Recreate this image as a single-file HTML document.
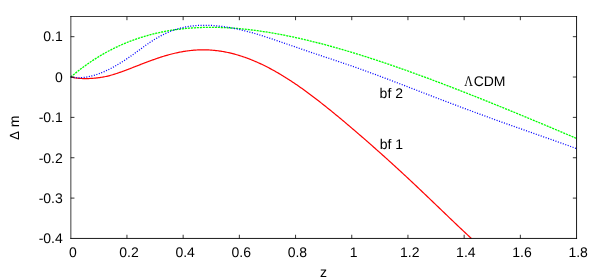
<!DOCTYPE html>
<html><head><meta charset="utf-8"><title>plot</title>
<style>html,body{margin:0;padding:0;background:#fff;}body{width:600px;height:280px;overflow:hidden;font-family:"Liberation Sans",sans-serif;}.lbl{filter:grayscale(1);text-rendering:geometricPrecision;}.lbl text{font-family:"Liberation Sans",sans-serif;}.lbl text.ser{font-family:"Liberation Serif",serif;}</style>
</head><body>
<svg width="600" height="280" viewBox="0 0 600 280" style="display:block">
<rect width="600" height="280" fill="#fff"/>
<path d="M70.75,77.00 L71.75,77.24 L72.75,77.46 L73.75,77.65 L74.75,77.82 L75.75,77.97 L76.75,78.10 L77.75,78.21 L78.75,78.31 L79.75,78.38 L80.75,78.45 L81.75,78.50 L82.75,78.54 L83.75,78.56 L84.75,78.58 L85.75,78.58 L86.75,78.57 L87.75,78.55 L88.75,78.53 L89.75,78.49 L90.75,78.44 L91.75,78.39 L92.75,78.32 L93.75,78.24 L94.75,78.16 L95.75,78.06 L96.75,77.96 L97.75,77.84 L98.75,77.71 L99.75,77.58 L100.75,77.43 L101.75,77.27 L102.75,77.10 L103.75,76.91 L104.75,76.72 L105.75,76.51 L106.75,76.29 L107.75,76.06 L108.75,75.81 L109.75,75.56 L110.75,75.29 L111.75,75.01 L112.75,74.72 L113.75,74.42 L114.75,74.11 L115.75,73.79 L116.75,73.46 L117.75,73.12 L118.75,72.78 L119.75,72.43 L120.75,72.08 L121.75,71.72 L122.75,71.36 L123.75,70.99 L124.75,70.62 L125.75,70.24 L126.75,69.86 L127.75,69.48 L128.75,69.10 L129.75,68.71 L130.75,68.33 L131.75,67.94 L132.75,67.55 L133.75,67.16 L134.75,66.77 L135.75,66.38 L136.75,65.99 L137.75,65.60 L138.75,65.21 L139.75,64.82 L140.75,64.43 L141.75,64.04 L142.75,63.65 L143.75,63.27 L144.75,62.88 L145.75,62.50 L146.75,62.12 L147.75,61.75 L148.75,61.37 L149.75,61.00 L150.75,60.64 L151.75,60.27 L152.75,59.91 L153.75,59.56 L154.75,59.20 L155.75,58.86 L156.75,58.51 L157.75,58.17 L158.75,57.84 L159.75,57.51 L160.75,57.18 L161.75,56.86 L162.75,56.55 L163.75,56.24 L164.75,55.94 L165.75,55.64 L166.75,55.35 L167.75,55.07 L168.75,54.79 L169.75,54.52 L170.75,54.25 L171.75,53.99 L172.75,53.74 L173.75,53.49 L174.75,53.26 L175.75,53.03 L176.75,52.80 L177.75,52.59 L178.75,52.38 L179.75,52.18 L180.75,51.98 L181.75,51.80 L182.75,51.62 L183.75,51.45 L184.75,51.29 L185.75,51.14 L186.75,50.99 L187.75,50.85 L188.75,50.73 L189.75,50.61 L190.75,50.49 L191.75,50.39 L192.75,50.30 L193.75,50.21 L194.75,50.13 L195.75,50.06 L196.75,50.00 L197.75,49.95 L198.75,49.91 L199.75,49.88 L200.75,49.85 L201.75,49.83 L202.75,49.83 L203.75,49.83 L204.75,49.84 L205.75,49.86 L206.75,49.89 L207.75,49.92 L208.75,49.97 L209.75,50.02 L210.75,50.09 L211.75,50.16 L212.75,50.24 L213.75,50.33 L214.75,50.43 L215.75,50.54 L216.75,50.65 L217.75,50.78 L218.75,50.91 L219.75,51.05 L220.75,51.20 L221.75,51.36 L222.75,51.53 L223.75,51.70 L224.75,51.89 L225.75,52.08 L226.75,52.28 L227.75,52.49 L228.75,52.71 L229.75,52.93 L230.75,53.17 L231.75,53.41 L232.75,53.66 L233.75,53.92 L234.75,54.19 L235.75,54.46 L236.75,54.75 L237.75,55.04 L238.75,55.34 L239.75,55.64 L240.75,55.96 L241.75,56.28 L242.75,56.61 L243.75,56.95 L244.75,57.30 L245.75,57.65 L246.75,58.01 L247.75,58.38 L248.75,58.76 L249.75,59.14 L250.75,59.54 L251.75,59.94 L252.75,60.34 L253.75,60.76 L254.75,61.18 L255.75,61.61 L256.75,62.05 L257.75,62.49 L258.75,62.94 L259.75,63.40 L260.75,63.86 L261.75,64.33 L262.75,64.81 L263.75,65.30 L264.75,65.79 L265.75,66.29 L266.75,66.80 L267.75,67.31 L268.75,67.83 L269.75,68.36 L270.75,68.89 L271.75,69.43 L272.75,69.98 L273.75,70.53 L274.75,71.09 L275.75,71.65 L276.75,72.22 L277.75,72.80 L278.75,73.39 L279.75,73.98 L280.75,74.57 L281.75,75.17 L282.75,75.78 L283.75,76.39 L284.75,77.01 L285.75,77.64 L286.75,78.27 L287.75,78.90 L288.75,79.55 L289.75,80.19 L290.75,80.85 L291.75,81.50 L292.75,82.17 L293.75,82.84 L294.75,83.51 L295.75,84.19 L296.75,84.87 L297.75,85.56 L298.75,86.25 L299.75,86.95 L300.75,87.65 L301.75,88.36 L302.75,89.07 L303.75,89.79 L304.75,90.51 L305.75,91.24 L306.75,91.97 L307.75,92.70 L308.75,93.44 L309.75,94.18 L310.75,94.93 L311.75,95.68 L312.75,96.43 L313.75,97.19 L314.75,97.95 L315.75,98.72 L316.75,99.49 L317.75,100.26 L318.75,101.03 L319.75,101.81 L320.75,102.60 L321.75,103.38 L322.75,104.17 L323.75,104.96 L324.75,105.76 L325.75,106.55 L326.75,107.35 L327.75,108.16 L328.75,108.96 L329.75,109.77 L330.75,110.58 L331.75,111.39 L332.75,112.21 L333.75,113.03 L334.75,113.85 L335.75,114.67 L336.75,115.49 L337.75,116.32 L338.75,117.15 L339.75,117.98 L340.75,118.81 L341.75,119.65 L342.75,120.48 L343.75,121.32 L344.75,122.16 L345.75,123.00 L346.75,123.85 L347.75,124.69 L348.75,125.54 L349.75,126.39 L350.75,127.24 L351.75,128.09 L352.75,128.94 L353.75,129.80 L354.75,130.65 L355.75,131.51 L356.75,132.37 L357.75,133.23 L358.75,134.09 L359.75,134.95 L360.75,135.82 L361.75,136.69 L362.75,137.55 L363.75,138.42 L364.75,139.29 L365.75,140.16 L366.75,141.04 L367.75,141.91 L368.75,142.78 L369.75,143.66 L370.75,144.54 L371.75,145.42 L372.75,146.30 L373.75,147.18 L374.75,148.06 L375.75,148.95 L376.75,149.83 L377.75,150.72 L378.75,151.61 L379.75,152.50 L380.75,153.39 L381.75,154.28 L382.75,155.18 L383.75,156.07 L384.75,156.97 L385.75,157.87 L386.75,158.77 L387.75,159.67 L388.75,160.58 L389.75,161.48 L390.75,162.39 L391.75,163.30 L392.75,164.21 L393.75,165.12 L394.75,166.03 L395.75,166.95 L396.75,167.86 L397.75,168.78 L398.75,169.70 L399.75,170.62 L400.75,171.54 L401.75,172.47 L402.75,173.39 L403.75,174.32 L404.75,175.25 L405.75,176.18 L406.75,177.11 L407.75,178.04 L408.75,178.97 L409.75,179.91 L410.75,180.85 L411.75,181.78 L412.75,182.72 L413.75,183.67 L414.75,184.61 L415.75,185.55 L416.75,186.50 L417.75,187.44 L418.75,188.39 L419.75,189.34 L420.75,190.29 L421.75,191.24 L422.75,192.19 L423.75,193.14 L424.75,194.09 L425.75,195.05 L426.75,196.00 L427.75,196.96 L428.75,197.91 L429.75,198.87 L430.75,199.83 L431.75,200.78 L432.75,201.74 L433.75,202.70 L434.75,203.66 L435.75,204.62 L436.75,205.58 L437.75,206.54 L438.75,207.50 L439.75,208.46 L440.75,209.42 L441.75,210.38 L442.75,211.34 L443.75,212.30 L444.75,213.26 L445.75,214.22 L446.75,215.18 L447.75,216.14 L448.75,217.10 L449.75,218.06 L450.75,219.02 L451.75,219.97 L452.75,220.93 L453.75,221.88 L454.75,222.84 L455.75,223.79 L456.75,224.74 L457.75,225.69 L458.75,226.64 L459.75,227.59 L460.75,228.54 L461.75,229.48 L462.75,230.43 L463.75,231.37 L464.75,232.31 L465.75,233.24 L466.75,234.18 L467.75,235.11 L468.75,236.04 L469.75,236.97 L470.75,237.90 L471.40,238.50" fill="none" stroke="#ff0000" stroke-width="1.2"/>
<path d="M70.75,77.03 L72.16,75.84 L73.56,74.66 L74.97,73.50 L76.37,72.37 L77.78,71.25 L79.18,70.15 L80.58,69.07 L81.99,68.00 L83.39,66.96 L84.80,65.93 L86.20,64.92 L87.61,63.93 L89.02,62.95 L90.42,62.00 L91.82,61.05 L93.23,60.13 L94.63,59.22 L96.04,58.33 L97.44,57.45 L98.85,56.59 L100.25,55.75 L101.66,54.92 L103.06,54.11 L104.47,53.31 L105.88,52.53 L107.28,51.76 L108.69,51.01 L110.09,50.27 L111.49,49.55 L112.90,48.84 L114.30,48.15 L115.71,47.46 L117.12,46.80 L118.52,46.14 L119.92,45.50 L121.33,44.88 L122.73,44.27 L124.14,43.67 L125.54,43.08 L126.95,42.51 L128.36,41.95 L129.76,41.40 L131.16,40.86 L132.57,40.34 L133.97,39.83 L135.38,39.33 L136.78,38.84 L138.19,38.37 L139.59,37.90 L141.00,37.45 L142.40,37.01 L143.81,36.58 L145.21,36.17 L146.62,35.76 L148.03,35.36 L149.43,34.98 L150.84,34.61 L152.24,34.24 L153.64,33.89 L155.05,33.55 L156.45,33.22 L157.86,32.90 L159.26,32.59 L160.67,32.28 L162.07,31.99 L163.48,31.71 L164.88,31.44 L166.29,31.18 L167.69,30.93 L169.10,30.68 L170.50,30.45 L171.91,30.22 L173.31,30.01 L174.72,29.80 L176.12,29.61 L177.53,29.42 L178.94,29.24 L180.34,29.07 L181.75,28.90 L183.15,28.75 L184.56,28.60 L185.96,28.47 L187.37,28.34 L188.77,28.22 L190.17,28.10 L191.58,28.00 L192.98,27.90 L194.39,27.81 L195.79,27.73 L197.20,27.66 L198.60,27.59 L200.01,27.53 L201.41,27.48 L202.82,27.44 L204.22,27.40 L205.63,27.37 L207.03,27.35 L208.44,27.34 L209.84,27.33 L211.25,27.33 L212.66,27.33 L214.06,27.34 L215.46,27.36 L216.87,27.39 L218.28,27.42 L219.68,27.46 L221.08,27.50 L222.49,27.56 L223.90,27.61 L225.30,27.68 L226.70,27.75 L228.11,27.82 L229.52,27.91 L230.92,27.99 L232.32,28.09 L233.73,28.19 L235.13,28.29 L236.54,28.40 L237.94,28.52 L239.35,28.64 L240.75,28.77 L242.16,28.91 L243.56,29.05 L244.97,29.19 L246.37,29.34 L247.78,29.49 L249.19,29.65 L250.59,29.82 L251.99,29.99 L253.40,30.17 L254.80,30.35 L256.21,30.53 L257.62,30.72 L259.02,30.92 L260.42,31.12 L261.83,31.32 L263.24,31.53 L264.64,31.75 L266.04,31.97 L267.45,32.19 L268.85,32.42 L270.26,32.65 L271.66,32.89 L273.07,33.13 L274.47,33.37 L275.88,33.62 L277.28,33.87 L278.69,34.13 L280.09,34.39 L281.50,34.66 L282.90,34.93 L284.31,35.21 L285.71,35.48 L287.12,35.77 L288.52,36.05 L289.93,36.34 L291.33,36.64 L292.74,36.93 L294.14,37.23 L295.55,37.54 L296.95,37.85 L298.36,38.16 L299.76,38.47 L301.17,38.79 L302.57,39.12 L303.98,39.44 L305.38,39.77 L306.79,40.11 L308.19,40.44 L309.60,40.78 L311.00,41.12 L312.41,41.47 L313.81,41.82 L315.22,42.17 L316.62,42.53 L318.03,42.89 L319.43,43.25 L320.84,43.61 L322.25,43.98 L323.65,44.35 L325.05,44.73 L326.46,45.10 L327.86,45.48 L329.27,45.86 L330.68,46.25 L332.08,46.64 L333.49,47.03 L334.89,47.42 L336.29,47.82 L337.70,48.22 L339.10,48.62 L340.51,49.02 L341.91,49.43 L343.32,49.84 L344.72,50.25 L346.13,50.67 L347.53,51.08 L348.94,51.50 L350.34,51.92 L351.75,52.35 L353.15,52.77 L354.56,53.20 L355.97,53.63 L357.37,54.07 L358.77,54.50 L360.18,54.94 L361.58,55.38 L362.99,55.82 L364.39,56.27 L365.80,56.72 L367.20,57.16 L368.61,57.62 L370.01,58.07 L371.42,58.52 L372.82,58.98 L374.23,59.44 L375.63,59.90 L377.04,60.37 L378.44,60.83 L379.85,61.30 L381.25,61.77 L382.66,62.24 L384.06,62.71 L385.47,63.18 L386.88,63.66 L388.28,64.14 L389.68,64.62 L391.09,65.10 L392.49,65.58 L393.90,66.07 L395.31,66.56 L396.71,67.05 L398.12,67.54 L399.52,68.03 L400.92,68.52 L402.33,69.02 L403.73,69.51 L405.14,70.01 L406.54,70.51 L407.95,71.01 L409.36,71.52 L410.76,72.02 L412.16,72.53 L413.57,73.03 L414.97,73.54 L416.38,74.05 L417.78,74.57 L419.19,75.08 L420.60,75.59 L422.00,76.11 L423.41,76.63 L424.81,77.15 L426.21,77.67 L427.62,78.19 L429.02,78.71 L430.43,79.23 L431.83,79.76 L433.24,80.28 L434.64,80.81 L436.05,81.34 L437.45,81.87 L438.86,82.40 L440.26,82.93 L441.67,83.47 L443.07,84.00 L444.48,84.54 L445.88,85.08 L447.29,85.61 L448.69,86.15 L450.10,86.69 L451.50,87.23 L452.91,87.78 L454.31,88.32 L455.72,88.87 L457.12,89.41 L458.53,89.96 L459.93,90.50 L461.34,91.05 L462.74,91.60 L464.15,92.15 L465.55,92.70 L466.96,93.26 L468.36,93.81 L469.77,94.36 L471.17,94.92 L472.58,95.48 L473.99,96.03 L475.39,96.59 L476.79,97.15 L478.20,97.71 L479.60,98.27 L481.01,98.83 L482.41,99.39 L483.82,99.95 L485.22,100.52 L486.63,101.08 L488.03,101.65 L489.44,102.21 L490.84,102.78 L492.25,103.35 L493.65,103.91 L495.06,104.48 L496.46,105.05 L497.87,105.62 L499.28,106.19 L500.68,106.76 L502.08,107.34 L503.49,107.91 L504.89,108.48 L506.30,109.06 L507.70,109.63 L509.11,110.21 L510.51,110.78 L511.92,111.36 L513.32,111.94 L514.73,112.52 L516.13,113.09 L517.54,113.67 L518.94,114.25 L520.35,114.83 L521.75,115.41 L523.16,116.00 L524.56,116.58 L525.97,117.16 L527.38,117.74 L528.78,118.33 L530.18,118.91 L531.59,119.49 L532.99,120.08 L534.40,120.66 L535.80,121.25 L537.21,121.84 L538.62,122.42 L540.02,123.01 L541.42,123.60 L542.83,124.19 L544.23,124.77 L545.64,125.36 L547.04,125.95 L548.45,126.54 L549.86,127.13 L551.26,127.72 L552.66,128.32 L554.07,128.91 L555.47,129.50 L556.88,130.09 L558.28,130.68 L559.69,131.28 L561.10,131.87 L562.50,132.46 L563.90,133.06 L565.31,133.65 L566.71,134.25 L568.12,134.84 L569.52,135.44 L570.93,136.03 L572.34,136.63 L573.74,137.22 L575.14,137.82 L576.55,138.42" fill="none" stroke="#00ff00" stroke-width="1.3" stroke-dasharray="2.1 0.9"/>
<path d="M70.75,77.00 L71.75,77.20 L72.75,77.37 L73.75,77.50 L74.75,77.61 L75.75,77.70 L76.75,77.75 L77.75,77.78 L78.75,77.79 L79.75,77.77 L80.75,77.73 L81.75,77.67 L82.75,77.58 L83.75,77.48 L84.75,77.36 L85.75,77.21 L86.75,77.05 L87.75,76.87 L88.75,76.67 L89.75,76.46 L90.75,76.23 L91.75,75.98 L92.75,75.71 L93.75,75.43 L94.75,75.14 L95.75,74.83 L96.75,74.50 L97.75,74.16 L98.75,73.80 L99.75,73.43 L100.75,73.05 L101.75,72.65 L102.75,72.23 L103.75,71.81 L104.75,71.36 L105.75,70.91 L106.75,70.44 L107.75,69.96 L108.75,69.47 L109.75,68.96 L110.75,68.45 L111.75,67.92 L112.75,67.38 L113.75,66.84 L114.75,66.28 L115.75,65.71 L116.75,65.14 L117.75,64.55 L118.75,63.96 L119.75,63.35 L120.75,62.74 L121.75,62.12 L122.75,61.49 L123.75,60.85 L124.75,60.20 L125.75,59.54 L126.75,58.88 L127.75,58.20 L128.75,57.52 L129.75,56.83 L130.75,56.13 L131.75,55.43 L132.75,54.72 L133.75,54.00 L134.75,53.28 L135.75,52.56 L136.75,51.83 L137.75,51.10 L138.75,50.37 L139.75,49.64 L140.75,48.91 L141.75,48.19 L142.75,47.46 L143.75,46.74 L144.75,46.03 L145.75,45.32 L146.75,44.62 L147.75,43.92 L148.75,43.24 L149.75,42.56 L150.75,41.89 L151.75,41.24 L152.75,40.59 L153.75,39.96 L154.75,39.34 L155.75,38.73 L156.75,38.13 L157.75,37.55 L158.75,36.98 L159.75,36.43 L160.75,35.89 L161.75,35.36 L162.75,34.85 L163.75,34.35 L164.75,33.86 L165.75,33.39 L166.75,32.94 L167.75,32.49 L168.75,32.07 L169.75,31.65 L170.75,31.25 L171.75,30.87 L172.75,30.50 L173.75,30.14 L174.75,29.80 L175.75,29.47 L176.75,29.16 L177.75,28.85 L178.75,28.57 L179.75,28.29 L180.75,28.04 L181.75,27.79 L182.75,27.56 L183.75,27.34 L184.75,27.13 L185.75,26.93 L186.75,26.75 L187.75,26.58 L188.75,26.42 L189.75,26.27 L190.75,26.14 L191.75,26.01 L192.75,25.90 L193.75,25.79 L194.75,25.70 L195.75,25.62 L196.75,25.54 L197.75,25.48 L198.75,25.42 L199.75,25.38 L200.75,25.34 L201.75,25.31 L202.75,25.29 L203.75,25.28 L204.75,25.28 L205.75,25.28 L206.75,25.30 L207.75,25.32 L208.75,25.34 L209.75,25.38 L210.75,25.42 L211.75,25.47 L212.75,25.53 L213.75,25.60 L214.75,25.67 L215.75,25.75 L216.75,25.84 L217.75,25.93 L218.75,26.03 L219.75,26.14 L220.75,26.26 L221.75,26.38 L222.75,26.51 L223.75,26.64 L224.75,26.78 L225.75,26.93 L226.75,27.08 L227.75,27.24 L228.75,27.41 L229.75,27.58 L230.75,27.75 L231.75,27.94 L232.75,28.13 L233.75,28.32 L234.75,28.52 L235.75,28.73 L236.75,28.94 L237.75,29.15 L238.75,29.37 L239.75,29.60 L240.75,29.83 L241.75,30.07 L242.75,30.31 L243.75,30.55 L244.75,30.80 L245.75,31.05 L246.75,31.31 L247.75,31.58 L248.75,31.84 L249.75,32.11 L250.75,32.39 L251.75,32.67 L252.75,32.95 L253.75,33.23 L254.75,33.52 L255.75,33.82 L256.75,34.11 L257.75,34.41 L258.75,34.71 L259.75,35.02 L260.75,35.33 L261.75,35.64 L262.75,35.95 L263.75,36.27 L264.75,36.59 L265.75,36.91 L266.75,37.23 L267.75,37.56 L268.75,37.88 L269.75,38.21 L270.75,38.54 L271.75,38.88 L272.75,39.21 L273.75,39.55 L274.75,39.88 L275.75,40.22 L276.75,40.56 L277.75,40.90 L278.75,41.24 L279.75,41.58 L280.75,41.92 L281.75,42.27 L282.75,42.61 L283.75,42.96 L284.75,43.30 L285.75,43.65 L286.75,43.99 L287.75,44.34 L288.75,44.68 L289.75,45.03 L290.75,45.37 L291.75,45.72 L292.75,46.07 L293.75,46.41 L294.75,46.76 L295.75,47.10 L296.75,47.45 L297.75,47.79 L298.75,48.14 L299.75,48.48 L300.75,48.82 L301.75,49.17 L302.75,49.51 L303.75,49.85 L304.75,50.19 L305.75,50.54 L306.75,50.88 L307.75,51.22 L308.75,51.56 L309.75,51.90 L310.75,52.23 L311.75,52.57 L312.75,52.91 L313.75,53.25 L314.75,53.58 L315.75,53.92 L316.75,54.26 L317.75,54.59 L318.75,54.93 L319.75,55.26 L320.75,55.60 L321.75,55.93 L322.75,56.26 L323.75,56.60 L324.75,56.93 L325.75,57.26 L326.75,57.60 L327.75,57.93 L328.75,58.26 L329.75,58.60 L330.75,58.93 L331.75,59.26 L332.75,59.60 L333.75,59.93 L334.75,60.27 L335.75,60.60 L336.75,60.94 L337.75,61.27 L338.75,61.61 L339.75,61.95 L340.75,62.28 L341.75,62.62 L342.75,62.96 L343.75,63.30 L344.75,63.64 L345.75,63.98 L346.75,64.33 L347.75,64.67 L348.75,65.01 L349.75,65.36 L350.75,65.70 L351.75,66.05 L352.75,66.40 L353.75,66.75 L354.75,67.10 L355.75,67.45 L356.75,67.80 L357.75,68.16 L358.75,68.51 L359.75,68.87 L360.75,69.22 L361.75,69.58 L362.75,69.94 L363.75,70.30 L364.75,70.66 L365.75,71.02 L366.75,71.38 L367.75,71.74 L368.75,72.11 L369.75,72.47 L370.75,72.84 L371.75,73.21 L372.75,73.58 L373.75,73.94 L374.75,74.31 L375.75,74.68 L376.75,75.06 L377.75,75.43 L378.75,75.80 L379.75,76.17 L380.75,76.55 L381.75,76.92 L382.75,77.30 L383.75,77.67 L384.75,78.05 L385.75,78.43 L386.75,78.80 L387.75,79.18 L388.75,79.56 L389.75,79.94 L390.75,80.32 L391.75,80.70 L392.75,81.08 L393.75,81.46 L394.75,81.84 L395.75,82.22 L396.75,82.60 L397.75,82.99 L398.75,83.37 L399.75,83.75 L400.75,84.13 L401.75,84.52 L402.75,84.90 L403.75,85.28 L404.75,85.67 L405.75,86.05 L406.75,86.44 L407.75,86.82 L408.75,87.21 L409.75,87.59 L410.75,87.98 L411.75,88.36 L412.75,88.75 L413.75,89.13 L414.75,89.52 L415.75,89.90 L416.75,90.29 L417.75,90.67 L418.75,91.06 L419.75,91.44 L420.75,91.83 L421.75,92.21 L422.75,92.59 L423.75,92.98 L424.75,93.36 L425.75,93.75 L426.75,94.13 L427.75,94.52 L428.75,94.90 L429.75,95.29 L430.75,95.67 L431.75,96.05 L432.75,96.44 L433.75,96.82 L434.75,97.20 L435.75,97.59 L436.75,97.97 L437.75,98.35 L438.75,98.73 L439.75,99.11 L440.75,99.50 L441.75,99.88 L442.75,100.26 L443.75,100.64 L444.75,101.02 L445.75,101.40 L446.75,101.78 L447.75,102.16 L448.75,102.54 L449.75,102.92 L450.75,103.30 L451.75,103.67 L452.75,104.05 L453.75,104.43 L454.75,104.81 L455.75,105.18 L456.75,105.56 L457.75,105.94 L458.75,106.31 L459.75,106.69 L460.75,107.06 L461.75,107.44 L462.75,107.81 L463.75,108.19 L464.75,108.56 L465.75,108.93 L466.75,109.30 L467.75,109.68 L468.75,110.05 L469.75,110.42 L470.75,110.79 L471.75,111.16 L472.75,111.53 L473.75,111.90 L474.75,112.27 L475.75,112.64 L476.75,113.01 L477.75,113.37 L478.75,113.74 L479.75,114.11 L480.75,114.48 L481.75,114.84 L482.75,115.21 L483.75,115.57 L484.75,115.94 L485.75,116.30 L486.75,116.67 L487.75,117.03 L488.75,117.39 L489.75,117.76 L490.75,118.12 L491.75,118.48 L492.75,118.84 L493.75,119.21 L494.75,119.57 L495.75,119.93 L496.75,120.29 L497.75,120.65 L498.75,121.01 L499.75,121.37 L500.75,121.72 L501.75,122.08 L502.75,122.44 L503.75,122.80 L504.75,123.16 L505.75,123.51 L506.75,123.87 L507.75,124.23 L508.75,124.58 L509.75,124.94 L510.75,125.29 L511.75,125.65 L512.75,126.00 L513.75,126.36 L514.75,126.71 L515.75,127.07 L516.75,127.42 L517.75,127.78 L518.75,128.13 L519.75,128.48 L520.75,128.83 L521.75,129.19 L522.75,129.54 L523.75,129.89 L524.75,130.25 L525.75,130.60 L526.75,130.95 L527.75,131.30 L528.75,131.65 L529.75,132.01 L530.75,132.36 L531.75,132.71 L532.75,133.06 L533.75,133.41 L534.75,133.76 L535.75,134.11 L536.75,134.47 L537.75,134.82 L538.75,135.17 L539.75,135.52 L540.75,135.87 L541.75,136.22 L542.75,136.57 L543.75,136.93 L544.75,137.28 L545.75,137.63 L546.75,137.98 L547.75,138.33 L548.75,138.69 L549.75,139.04 L550.75,139.39 L551.75,139.74 L552.75,140.10 L553.75,140.45 L554.75,140.80 L555.75,141.16 L556.75,141.51 L557.75,141.87 L558.75,142.22 L559.75,142.58 L560.75,142.93 L561.75,143.29 L562.75,143.64 L563.75,144.00 L564.75,144.36 L565.75,144.72 L566.75,145.08 L567.75,145.43 L568.75,145.79 L569.75,146.15 L570.75,146.51 L571.75,146.88 L572.75,147.24 L573.75,147.60 L574.75,147.96 L575.75,148.33 L576.50,148.60" fill="none" stroke="#0000ff" stroke-width="1.25" stroke-dasharray="1.05 1.55"/>
<g fill="none" stroke="#000" stroke-linecap="square">
<path d="M70.85,16.5 H576.55" stroke-width="0.76"/>
<path d="M70.85,16.5 V238.45" stroke-width="0.76"/>
<path d="M576.55,16.5 V238.45" stroke-width="0.9"/>
<path d="M70.85,238.45 H576.55" stroke-width="0.9"/>
</g>
<path d="M126.95,238.45 v-3.7 M126.95,16.5 v3.7 M183.15,238.45 v-3.7 M183.15,16.5 v3.7 M239.35,238.45 v-3.7 M239.35,16.5 v3.7 M295.55,238.45 v-3.7 M295.55,16.5 v3.7 M351.75,238.45 v-3.7 M351.75,16.5 v3.7 M407.95,238.45 v-3.7 M407.95,16.5 v3.7 M464.15,238.45 v-3.7 M464.15,16.5 v3.7 M520.35,238.45 v-3.7 M520.35,16.5 v3.7 M70.75,36.68 h3.7 M576.55,36.68 h-3.7 M70.75,77.03 h3.7 M576.55,77.03 h-3.7 M70.75,117.39 h3.7 M576.55,117.39 h-3.7 M70.75,157.74 h3.7 M576.55,157.74 h-3.7 M70.75,198.10 h3.7 M576.55,198.10 h-3.7" fill="none" stroke="#000" stroke-width="0.8"/>
<g class="lbl" font-size="14" fill="#000">
<text x="72.85" y="256.5" text-anchor="middle">0</text>
<text x="128.99" y="256.5" text-anchor="middle">0.2</text>
<text x="185.13" y="256.5" text-anchor="middle">0.4</text>
<text x="241.27" y="256.5" text-anchor="middle">0.6</text>
<text x="297.41" y="256.5" text-anchor="middle">0.8</text>
<text x="353.55" y="256.5" text-anchor="middle">1</text>
<text x="409.69" y="256.5" text-anchor="middle">1.2</text>
<text x="465.83" y="256.5" text-anchor="middle">1.4</text>
<text x="521.97" y="256.5" text-anchor="middle">1.6</text>
<text x="578.11" y="256.5" text-anchor="middle">1.8</text>
<text x="62.8" y="41.48" text-anchor="end">0.1</text>
<text x="62.8" y="81.83" text-anchor="end">0</text>
<text x="62.8" y="122.19" text-anchor="end">-0.1</text>
<text x="62.8" y="162.54" text-anchor="end">-0.2</text>
<text x="62.8" y="202.90" text-anchor="end">-0.3</text>
<text x="62.8" y="243.25" text-anchor="end">-0.4</text>
<text x="323.5" y="277.4" text-anchor="middle">z</text>
<text transform="translate(19,140) rotate(-90)"><tspan font-size="13.3">&#916;</tspan> m</text>
<text x="379.7" y="148.7">bf 1</text>
<text x="379.6" y="97.6">bf 2</text>
<text transform="translate(464.3,85.9) scale(0.86,1.06)" class="ser">&#923;</text><text x="473.65" y="86">CDM</text>
</g>
</svg>
</body></html>
